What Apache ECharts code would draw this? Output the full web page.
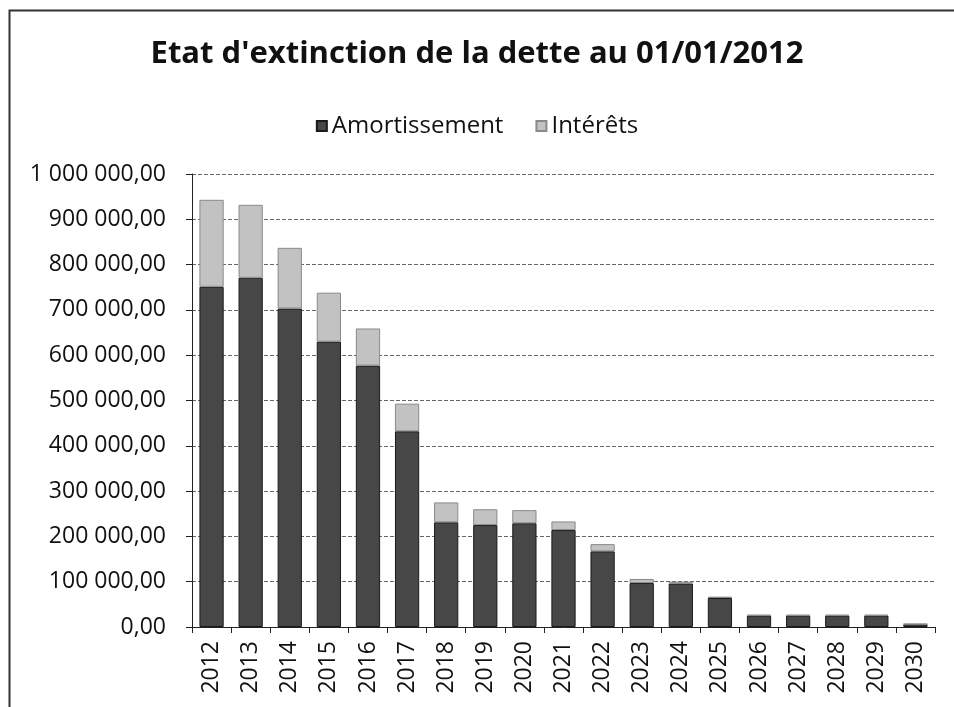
<!DOCTYPE html>
<html>
<head>
<meta charset="utf-8">
<script src="https://cdn.jsdelivr.net/npm/echarts@6/dist/echarts.min.js"></script>
<style>
html,body{margin:0;padding:0;background:#fff;}
#chart{width:954px;height:707px;}
</style>
</head>
<body>
<div id="chart"></div>
<script>
var years = ['2012','2013','2014','2015','2016','2017','2018','2019','2020','2021','2022','2023','2024','2025','2026','2027','2028','2029','2030'];
var amortissement = [751000, 771000, 703000, 630000, 577000, 432000, 231000, 225000, 229000, 214000, 167000, 97000, 96000, 64000, 25000, 25000, 25000, 25000, 6000];
var interets = [192000, 161000, 134000, 108000, 82000, 61000, 44000, 35000, 29000, 19000, 16000, 9000, 4000, 3000, 2000, 2000, 2000, 2000, 1000];
var titleText = "Etat d'extinction de la dette au 01/01/2012";

function fmt(v){
  var s = Math.round(v).toString();
  s = s.replace(/\B(?=(\d{3})+(?!\d))/g, ' ');
  return s + ',00';
}

var chart = echarts.init(document.getElementById('chart'));
var font = '"Open Sans", "Noto Sans", sans-serif';
chart.setOption({
  animation: false,
  backgroundColor: '#fff',
  textStyle: {fontFamily: font},
  title: {
    text: titleText,
    left: 'center',
    top: 34,
    textStyle: {fontFamily: font, fontSize: 31, fontWeight: 'bold', color: '#111'}
  },
  legend: {
    top: 109,
    left: 'center',
    itemWidth: 10,
    itemHeight: 10,
    itemGap: 32,
    icon: 'rect',
    textStyle: {fontFamily: font, fontSize: 24, color: '#111'},
    data: ['Amortissement', 'Intérêts']
  },
  graphic: [{
    type: 'rect',
    shape: {x: 9.5, y: 10.5, width: 1200, height: 1200},
    style: {fill: 'none', stroke: '#333', lineWidth: 2},
    silent: true
  }],
  grid: {left: 192, right: 19, top: 174, bottom: 80, containLabel: false},
  xAxis: {
    type: 'category',
    data: years,
    boundaryGap: true,
    axisLine: {lineStyle: {color: '#222', width: 1}},
    axisTick: {show: true, alignWithLabel: false, length: 6, lineStyle: {color: '#222'}},
    axisLabel: {rotate: 90, fontSize: 23, color: '#111', margin: 14, fontFamily: font}
  },
  yAxis: {
    type: 'value',
    min: 0,
    max: 1000000,
    interval: 100000,
    axisLine: {show: true, lineStyle: {color: '#222', width: 1}},
    axisTick: {show: true, length: 6, lineStyle: {color: '#222'}},
    splitLine: {show: true, lineStyle: {color: '#666', width: 1, type: [4, 2]}},
    axisLabel: {fontSize: 23, color: '#111', margin: 26, fontFamily: font, formatter: fmt}
  },
  series: [{
    name: 'Amortissement',
    type: 'bar',
    stack: 'total',
    data: amortissement,
    barWidth: '62%',
    itemStyle: {color: '#474747', borderColor: '#1a1a1a', borderWidth: 1}
  }, {
    name: 'Intérêts',
    type: 'bar',
    stack: 'total',
    data: interets,
    itemStyle: {color: '#c2c2c2', borderColor: '#8a8a8a', borderWidth: 1}
  }]
});
</script>
</body>
</html>
